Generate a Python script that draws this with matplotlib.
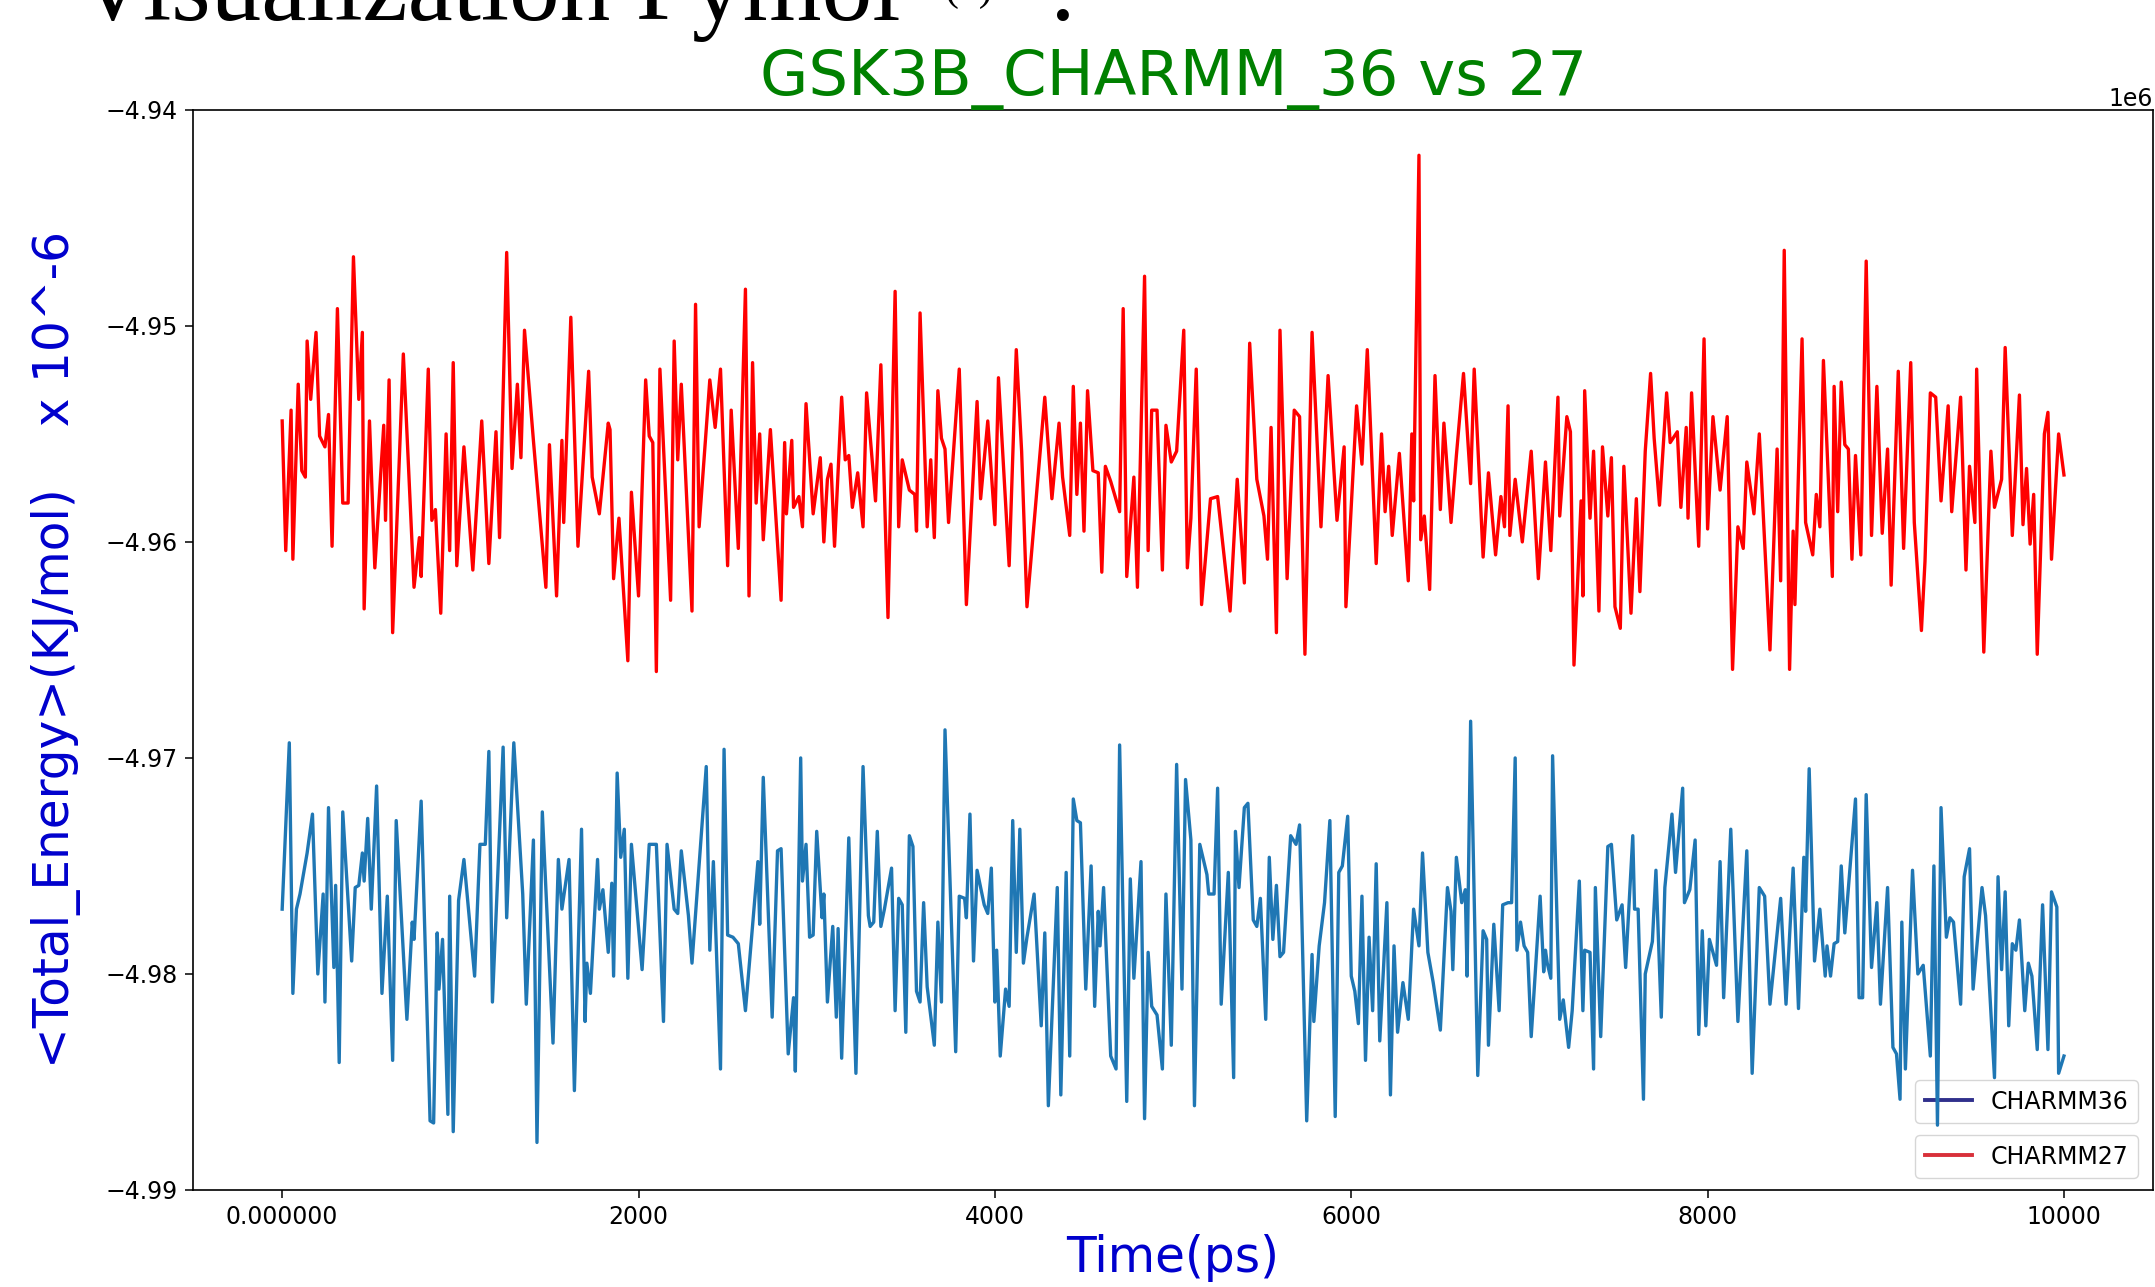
import numpy as np
import matplotlib
matplotlib.use('Agg')
import matplotlib.pyplot as plt
from matplotlib.lines import Line2D

# CHARMM36 total energy (x 1e6 kJ/mol)
time_36 = [
    0, 40, 60, 80, 100, 140, 170, 200, 230, 240,
    260, 290, 300, 320, 340, 390, 410, 430, 450, 460,
    480, 500, 530, 560, 590, 620, 640, 700, 730, 740,
    780, 830, 850, 870, 880, 900, 930, 940, 960, 990,
    1020, 1080, 1110, 1140, 1160, 1180, 1240, 1260, 1300, 1350,
    1370, 1410, 1430, 1460, 1520, 1550, 1570, 1610, 1640, 1680,
    1700, 1710, 1730, 1770, 1780, 1800, 1830, 1850, 1860, 1880,
    1900, 1920, 1940, 1960, 2020, 2060, 2100, 2140, 2160, 2200,
    2220, 2240, 2280, 2300, 2380, 2400, 2420, 2460, 2480, 2500,
    2530, 2560, 2600, 2670, 2680, 2700, 2750, 2780, 2800, 2840,
    2870, 2880, 2910, 2920, 2940, 2960, 2980, 3000, 3030, 3040,
    3060, 3090, 3110, 3120, 3140, 3180, 3220, 3260,
    3290, 3300, 3320, 3340, 3360, 3380, 3420, 3440, 3460, 3480,
    3500, 3520, 3540, 3560, 3580, 3600, 3620, 3660, 3680, 3700,
    3720, 3780, 3800, 3830, 3840, 3860, 3880, 3900, 3940, 3960,
    3980, 4000, 4010, 4030, 4060, 4080, 4100, 4120, 4140, 4160,
    4180, 4220, 4260, 4280, 4300, 4350, 4370, 4400, 4420, 4440,
    4460, 4480, 4510, 4540, 4560, 4580, 4590, 4610, 4650, 4680,
    4700, 4740, 4760, 4780, 4820, 4840, 4860, 4880, 4910, 4940,
    4960, 4990, 5020, 5050, 5070, 5100, 5120, 5150, 5190, 5200,
    5230, 5250, 5270, 5310, 5340, 5350, 5370, 5400, 5420, 5450,
    5470, 5490, 5520, 5540, 5560, 5580, 5600, 5620, 5660, 5690,
    5710, 5750, 5780, 5790, 5820, 5850, 5880, 5910, 5930, 5950,
    5980, 6000, 6020, 6040, 6060, 6080, 6100, 6120, 6140, 6160,
    6200, 6220, 6240, 6260, 6290, 6320, 6350, 6380, 6400, 6430,
    6460, 6500, 6540, 6560, 6570, 6590, 6620, 6640,
    6650, 6670, 6710, 6740, 6760, 6770, 6800, 6830, 6850, 6880,
    6900, 6920, 6930, 6950, 6970, 6990, 7010, 7060, 7080, 7090,
    7100, 7120, 7130, 7170, 7190, 7220, 7240, 7280, 7300, 7310,
    7340, 7360, 7370, 7400, 7440, 7460, 7490, 7520, 7540, 7580,
    7590, 7610, 7640, 7650, 7690, 7710, 7740, 7760, 7800, 7820,
    7860, 7870, 7900, 7930, 7950, 7970, 7990, 8010, 8050, 8070,
    8090, 8130, 8170, 8220, 8250, 8290, 8320, 8350, 8410, 8440,
    8480, 8510, 8540, 8550, 8570, 8600, 8630, 8660, 8670, 8690,
    8710, 8730, 8750, 8770, 8830, 8850, 8870, 8890, 8920, 8950,
    8970, 9010, 9040, 9060, 9080, 9090, 9110, 9150, 9180, 9210,
    9250, 9270, 9290, 9310, 9340, 9360, 9380, 9420, 9440, 9470,
    9490, 9540, 9560, 9610, 9630, 9650, 9670, 9690, 9710, 9730,
    9750, 9780, 9800, 9820, 9850, 9880, 9910, 9930, 9960, 9970, 10000,
]
energy_36 = [
    -4.9770, -4.9693, -4.9809, -4.9770, -4.9763, -4.9744, -4.9726, -4.9800, -4.9763, -4.9813,
    -4.9723, -4.9797, -4.9759, -4.9841, -4.9725, -4.9794, -4.9760, -4.9759, -4.9744, -4.9757,
    -4.9728, -4.9770, -4.9713, -4.9809, -4.9764, -4.9840, -4.9729, -4.9821, -4.9776, -4.9784,
    -4.9720, -4.9868, -4.9869, -4.9781, -4.9807, -4.9784, -4.9865, -4.9764, -4.9873, -4.9766,
    -4.9747, -4.9801, -4.9740, -4.9740, -4.9697, -4.9813, -4.9695, -4.9774, -4.9693, -4.9763,
    -4.9814, -4.9738, -4.9878, -4.9725, -4.9832, -4.9747, -4.9770, -4.9747, -4.9854, -4.9733,
    -4.9822, -4.9795, -4.9809, -4.9747, -4.9770, -4.9761, -4.9790, -4.9758, -4.9801, -4.9707,
    -4.9746, -4.9733, -4.9802, -4.9740, -4.9798, -4.9740, -4.9740, -4.9822, -4.9740, -4.9770,
    -4.9772, -4.9743, -4.9773, -4.9795, -4.9704, -4.9789, -4.9748, -4.9844, -4.9696, -4.9782,
    -4.9783, -4.9786, -4.9817, -4.9748, -4.9777, -4.9709, -4.9820, -4.9743, -4.9742, -4.9837,
    -4.9811, -4.9845, -4.9700, -4.9757, -4.9740, -4.9783, -4.9782, -4.9734, -4.9774, -4.9763,
    -4.9813, -4.9778, -4.9820, -4.9779, -4.9839, -4.9737, -4.9846, -4.9704,
    -4.9773, -4.9778, -4.9776, -4.9734, -4.9778, -4.9770, -4.9751, -4.9817, -4.9765, -4.9768,
    -4.9827, -4.9736, -4.9741, -4.9808, -4.9813, -4.9767, -4.9806, -4.9833, -4.9776, -4.9813,
    -4.9687, -4.9836, -4.9764, -4.9765, -4.9774, -4.9726, -4.9794, -4.9752, -4.9768, -4.9772,
    -4.9751, -4.9813, -4.9789, -4.9838, -4.9807, -4.9815, -4.9729, -4.9790, -4.9733, -4.9795,
    -4.9783, -4.9763, -4.9824, -4.9781, -4.9861, -4.9760, -4.9856, -4.9753, -4.9838, -4.9719,
    -4.9729, -4.9730, -4.9807, -4.9750, -4.9815, -4.9771, -4.9787, -4.9760, -4.9838, -4.9844,
    -4.9694, -4.9859, -4.9756, -4.9802, -4.9748, -4.9867, -4.9790, -4.9815, -4.9819, -4.9844,
    -4.9763, -4.9833, -4.9703, -4.9807, -4.9710, -4.9738, -4.9861, -4.9740, -4.9754, -4.9763,
    -4.9763, -4.9714, -4.9814, -4.9753, -4.9848, -4.9734, -4.9760, -4.9723, -4.9721, -4.9775,
    -4.9778, -4.9765, -4.9821, -4.9746, -4.9784, -4.9759, -4.9792, -4.9790, -4.9736, -4.9740,
    -4.9731, -4.9868, -4.9791, -4.9822, -4.9787, -4.9767, -4.9729, -4.9866, -4.9753, -4.9750,
    -4.9727, -4.9801, -4.9808, -4.9823, -4.9764, -4.9840, -4.9783, -4.9817, -4.9749, -4.9831,
    -4.9767, -4.9856, -4.9787, -4.9827, -4.9804, -4.9821, -4.9770, -4.9787, -4.9744, -4.9790,
    -4.9804, -4.9826, -4.9760, -4.9771, -4.9798, -4.9746, -4.9767, -4.9761,
    -4.9801, -4.9683, -4.9847, -4.9780, -4.9784, -4.9833, -4.9777, -4.9817, -4.9768, -4.9767,
    -4.9767, -4.9700, -4.9789, -4.9776, -4.9787, -4.9790, -4.9829, -4.9764, -4.9799, -4.9789,
    -4.9795, -4.9802, -4.9699, -4.9821, -4.9812, -4.9834, -4.9817, -4.9757, -4.9817, -4.9789,
    -4.9790, -4.9844, -4.9760, -4.9829, -4.9741, -4.9740, -4.9775, -4.9768, -4.9797, -4.9736,
    -4.9770, -4.9770, -4.9858, -4.9800, -4.9785, -4.9752, -4.9820, -4.9760, -4.9726, -4.9753,
    -4.9714, -4.9767, -4.9761, -4.9738, -4.9828, -4.9780, -4.9824, -4.9784, -4.9796, -4.9748,
    -4.9811, -4.9733, -4.9822, -4.9743, -4.9846, -4.9760, -4.9764, -4.9814, -4.9765, -4.9814,
    -4.9751, -4.9816, -4.9746, -4.9771, -4.9705, -4.9794, -4.9770, -4.9801, -4.9787, -4.9801,
    -4.9786, -4.9785, -4.9750, -4.9781, -4.9719, -4.9811, -4.9811, -4.9717, -4.9797, -4.9767,
    -4.9814, -4.9760, -4.9834, -4.9837, -4.9858, -4.9776, -4.9844, -4.9752, -4.9800, -4.9796,
    -4.9838, -4.9750, -4.9870, -4.9723, -4.9783, -4.9774, -4.9776, -4.9814, -4.9755, -4.9742,
    -4.9807, -4.9760, -4.9773, -4.9848, -4.9755, -4.9798, -4.9762, -4.9824, -4.9786, -4.9789,
    -4.9775, -4.9817, -4.9795, -4.9801, -4.9835, -4.9768, -4.9835, -4.9762, -4.9769, -4.9846, -4.9838,
]

# CHARMM27 total energy (x 1e6 kJ/mol)
time_27 = [
    0, 20, 50, 60, 90, 110, 130, 140, 160, 190,
    210, 240, 260, 280, 310, 340, 370, 400, 430, 450,
    460, 490, 520, 570, 580, 600, 620, 680, 740, 770,
    780, 820, 840, 860, 890, 920, 940, 960, 980, 1020,
    1070, 1120, 1160, 1200, 1220, 1260, 1290, 1320, 1340, 1360,
    1410, 1480, 1500, 1540, 1570, 1580, 1620, 1660, 1720, 1740,
    1780, 1830, 1840, 1860, 1890, 1940, 1960, 2000, 2040, 2060,
    2080, 2100, 2120, 2180, 2200, 2220, 2240, 2300, 2320, 2340,
    2400, 2430, 2460, 2500, 2520, 2560, 2600, 2620, 2640, 2660,
    2680, 2700, 2740, 2800, 2820, 2830, 2860, 2870, 2900, 2920,
    2940, 2980, 3020, 3040, 3060, 3080, 3100, 3140, 3160, 3180,
    3200, 3230, 3260,
    3280, 3330, 3360, 3400, 3440, 3460, 3480, 3520, 3550, 3560,
    3580, 3620, 3640, 3660, 3680, 3700, 3720, 3740, 3800, 3840,
    3900, 3920, 3960, 4000, 4020, 4080, 4120, 4150, 4180, 4280,
    4320, 4360, 4380, 4420, 4440, 4460, 4480, 4500, 4520, 4550,
    4580, 4600, 4620, 4650, 4700, 4720, 4740, 4780, 4800, 4840,
    4860, 4880, 4910, 4940, 4960, 4990, 5020, 5060, 5080, 5100,
    5130, 5160, 5210, 5250, 5320, 5360, 5400, 5430, 5470, 5510,
    5530, 5550, 5580, 5600, 5640, 5680, 5710, 5740, 5780, 5830,
    5870, 5920, 5960, 5970, 6030, 6060, 6090, 6140, 6170, 6190,
    6210, 6230, 6270, 6320, 6340, 6350, 6380, 6390, 6410, 6440,
    6470, 6500, 6520, 6560, 6590, 6630,
    6670, 6690, 6740, 6770, 6810, 6840, 6860, 6880, 6890, 6920,
    6960, 7010, 7050, 7090, 7120, 7160, 7170, 7210, 7230, 7250,
    7290, 7300, 7310, 7340, 7360, 7390, 7410, 7440, 7460, 7480,
    7510, 7530, 7570, 7600, 7620, 7650, 7680, 7700, 7730, 7770,
    7790, 7830, 7850, 7880, 7890, 7910, 7950, 7980, 8000, 8030,
    8070, 8110, 8140, 8170, 8200, 8220, 8260, 8290, 8350, 8390,
    8410, 8430, 8460, 8480, 8490, 8530, 8550, 8590, 8610, 8630,
    8650, 8700, 8710, 8730, 8750, 8770, 8790, 8810, 8830, 8860,
    8890, 8920, 8950, 8980, 9010, 9030, 9070, 9100, 9140, 9160,
    9200, 9220, 9250, 9280, 9310, 9350, 9370, 9420, 9450, 9470,
    9500, 9510, 9550, 9590, 9610, 9650, 9670, 9710, 9750, 9770,
    9790, 9810, 9830, 9850, 9890, 9910, 9930, 9970, 10000,
]
energy_27 = [
    -4.9544, -4.9604, -4.9539, -4.9608, -4.9527, -4.9567, -4.9570, -4.9507, -4.9534, -4.9503,
    -4.9551, -4.9556, -4.9541, -4.9602, -4.9492, -4.9582, -4.9582, -4.9468, -4.9534, -4.9503,
    -4.9631, -4.9544, -4.9612, -4.9546, -4.9590, -4.9525, -4.9642, -4.9513, -4.9621, -4.9598,
    -4.9616, -4.9520, -4.9590, -4.9585, -4.9633, -4.9550, -4.9604, -4.9517, -4.9611, -4.9556,
    -4.9613, -4.9544, -4.9610, -4.9549, -4.9598, -4.9466, -4.9566, -4.9527, -4.9561, -4.9502,
    -4.9553, -4.9621, -4.9555, -4.9625, -4.9553, -4.9591, -4.9496, -4.9602, -4.9521, -4.9570,
    -4.9587, -4.9545, -4.9548, -4.9617, -4.9589, -4.9655, -4.9577, -4.9625, -4.9525, -4.9551,
    -4.9554, -4.9660, -4.9520, -4.9627, -4.9507, -4.9562, -4.9527, -4.9632, -4.9490, -4.9593,
    -4.9525, -4.9547, -4.9520, -4.9611, -4.9539, -4.9603, -4.9483, -4.9625, -4.9517, -4.9582,
    -4.9550, -4.9599, -4.9548, -4.9627, -4.9554, -4.9587, -4.9553, -4.9584, -4.9579, -4.9593,
    -4.9536, -4.9587, -4.9561, -4.9600, -4.9571, -4.9564, -4.9602, -4.9533, -4.9562, -4.9560,
    -4.9584, -4.9568, -4.9593,
    -4.9531, -4.9581, -4.9518, -4.9635, -4.9484, -4.9593, -4.9562, -4.9576, -4.9578, -4.9595,
    -4.9494, -4.9593, -4.9562, -4.9598, -4.9530, -4.9552, -4.9557, -4.9591, -4.9520, -4.9629,
    -4.9535, -4.9580, -4.9544, -4.9592, -4.9524, -4.9611, -4.9511, -4.9558, -4.9630, -4.9533,
    -4.9580, -4.9545, -4.9570, -4.9597, -4.9528, -4.9578, -4.9545, -4.9595, -4.9530, -4.9567,
    -4.9568, -4.9614, -4.9565, -4.9572, -4.9586, -4.9492, -4.9616, -4.9570, -4.9621, -4.9477,
    -4.9604, -4.9539, -4.9539, -4.9613, -4.9546, -4.9563, -4.9558, -4.9502, -4.9612, -4.9589,
    -4.9520, -4.9629, -4.9580, -4.9579, -4.9632, -4.9571, -4.9619, -4.9508, -4.9571, -4.9588,
    -4.9608, -4.9547, -4.9642, -4.9502, -4.9617, -4.9539, -4.9542, -4.9652, -4.9503, -4.9593,
    -4.9523, -4.9590, -4.9556, -4.9630, -4.9537, -4.9564, -4.9511, -4.9610, -4.9550, -4.9586,
    -4.9565, -4.9597, -4.9559, -4.9618, -4.9550, -4.9581, -4.9421, -4.9599, -4.9588, -4.9622,
    -4.9523, -4.9585, -4.9545, -4.9591, -4.9560, -4.9522,
    -4.9573, -4.9520, -4.9607, -4.9568, -4.9606, -4.9579, -4.9593, -4.9537, -4.9597, -4.9571,
    -4.9600, -4.9558, -4.9617, -4.9563, -4.9604, -4.9533, -4.9588, -4.9542, -4.9549, -4.9657,
    -4.9581, -4.9625, -4.9530, -4.9589, -4.9558, -4.9632, -4.9556, -4.9588, -4.9561, -4.9630,
    -4.9640, -4.9565, -4.9633, -4.9580, -4.9623, -4.9558, -4.9522, -4.9552, -4.9583, -4.9531,
    -4.9554, -4.9549, -4.9584, -4.9547, -4.9589, -4.9531, -4.9602, -4.9506, -4.9594, -4.9542,
    -4.9576, -4.9542, -4.9659, -4.9593, -4.9603, -4.9563, -4.9587, -4.9550, -4.9650, -4.9557,
    -4.9618, -4.9465, -4.9659, -4.9595, -4.9629, -4.9506, -4.9591, -4.9606, -4.9578, -4.9593,
    -4.9516, -4.9616, -4.9528, -4.9586, -4.9526, -4.9555, -4.9557, -4.9608, -4.9560, -4.9606,
    -4.9470, -4.9597, -4.9528, -4.9596, -4.9557, -4.9620, -4.9521, -4.9603, -4.9517, -4.9591,
    -4.9641, -4.9609, -4.9531, -4.9533, -4.9581, -4.9537, -4.9586, -4.9533, -4.9613, -4.9565,
    -4.9591, -4.9520, -4.9651, -4.9558, -4.9584, -4.9571, -4.9510, -4.9597, -4.9532, -4.9592,
    -4.9566, -4.9601, -4.9578, -4.9652, -4.9550, -4.9540, -4.9608, -4.9550, -4.9569,
]

x_ticks = [0, 2000, 4000, 6000, 8000, 10000]
x_tick_labels = ['0.000000', '2000', '4000', '6000', '8000', '10000']
y_ticks = [-4.99, -4.98, -4.97, -4.96, -4.95, -4.94]

fig = plt.figure(figsize=(21.55, 12.87), dpi=100)
ax = fig.add_axes([0.0896, 0.0754, 0.9095, 0.8392])

ax.plot(time_36, np.array(energy_36) * 1e6, color='#1f77b4', lw=2.4)
ax.plot(time_27, np.array(energy_27) * 1e6, color='red', lw=2.4)

ax.set_xlim(-500, 10500)
ax.set_ylim(-4.99e6, -4.94e6)
ax.set_xticks(x_ticks)
ax.set_xticklabels(x_tick_labels)
ax.set_yticks(np.array(y_ticks) * 1e6)
ax.tick_params(labelsize=17, length=6, width=1.1, pad=5)
ax.yaxis.set_offset_position('right')
ax.yaxis.get_offset_text().set_fontsize(17)
for s in ax.spines.values():
    s.set_linewidth(1.2)

ax.set_title('GSK3B_CHARMM_36 vs 27', color='green', fontsize=45, pad=9)
ax.set_ylabel('<Total_Energy>(KJ/mol)    x 10^-6', color='mediumblue', fontsize=35)
ax.yaxis.set_label_coords(-0.057, 0.5)
ax.set_xlabel('Time(ps)', color='mediumblue', fontsize=35)
ax.xaxis.set_label_coords(0.5, -0.041)

# two separate legend boxes, drawn under the data lines
h36 = Line2D([], [], color='#30308c', lw=2.8)
h27 = Line2D([], [], color='#d8303a', lw=2.8)
leg1 = ax.legend([h36], ['CHARMM36'], loc='lower right', fontsize=17,
                 bbox_to_anchor=(0.9923, 0.062), borderaxespad=0)
leg1.set_zorder(1)
ax.add_artist(leg1)
leg2 = ax.legend([h27], ['CHARMM27'], loc='lower right', fontsize=17,
                 bbox_to_anchor=(0.9923, 0.0111), borderaxespad=0)
leg2.set_zorder(1)

# slide heading, cut off by the top edge of the screenshot
fig.text(76 / 2155, 1 - 20 / 1287, 'Visualization Pymol', fontsize=73,
         family='Liberation Serif', va='baseline', ha='left')
fig.text(968 / 2155, 1.0, '(*)', fontsize=30,
         family='Liberation Serif', va='baseline', ha='center')
fig.text(1063 / 2155, 1 - 20 / 1287, ':', fontsize=73,
         family='Liberation Serif', va='baseline', ha='center')

fig.savefig('out.png', dpi=100)
